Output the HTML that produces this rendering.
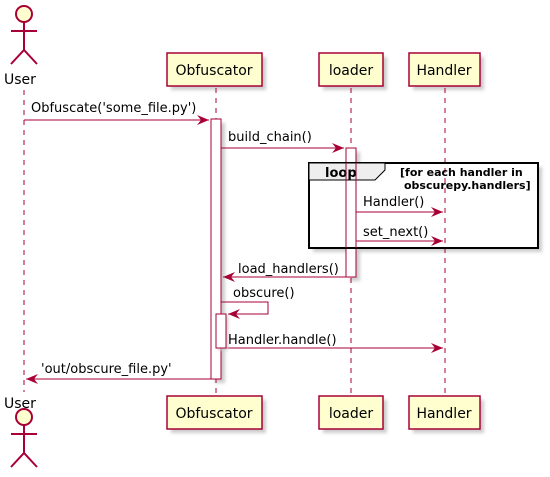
<!DOCTYPE html>
<html><head><style>body{margin:0;background:#fff}svg{display:block}text{font-family:"DejaVu Sans","Liberation Sans",sans-serif;fill:#000}</style></head><body>
<svg width="550" height="477" viewBox="0 0 550 477" xmlns="http://www.w3.org/2000/svg">
<defs><filter id="sh" x="-20%" y="-20%" width="150%" height="150%"><feGaussianBlur stdDeviation="1.5"/></filter></defs>
<!-- shadows -->
<g fill="#ccc" filter="url(#sh)">
<rect x="171" y="57" width="95" height="33"/><rect x="323" y="57" width="64" height="33"/><rect x="413" y="57" width="71" height="33"/>
<rect x="171" y="400" width="95" height="33"/><rect x="323" y="400" width="64" height="33"/><rect x="413" y="400" width="71" height="33"/>
<rect x="313" y="167" width="229" height="85"/>
<rect x="215" y="123" width="10" height="260"/>
<rect x="350" y="152" width="10" height="129"/>
</g>
<rect x="309" y="163" width="229" height="85" fill="#fff"/>
<g stroke="#A80036" stroke-width="1" stroke-dasharray="5,5" fill="none">
<line x1="24" y1="90" x2="24" y2="392"/>
<line x1="216" y1="88" x2="216" y2="396"/>
<line x1="351" y1="88" x2="351" y2="396"/>
<line x1="445" y1="88" x2="445" y2="396"/>
</g>
<!-- actors -->
<g stroke="#A80036" stroke-width="2" fill="#FEFECE">
<circle cx="24" cy="14" r="8"/><line x1="24" y1="22" x2="24" y2="50"/><line x1="11" y1="31" x2="37" y2="31"/><polyline points="11,64 24,50 37,64" fill="none"/>
<circle cx="24" cy="417" r="8"/><line x1="24" y1="425" x2="24" y2="453"/><line x1="11" y1="434" x2="37" y2="434"/><polyline points="11,467 24,453 37,467" fill="none"/>
</g>
<text x="4" y="84" font-size="14">User</text>
<text x="4" y="408" font-size="14">User</text>
<g stroke="#A80036" stroke-width="1.5" fill="#FEFECE">
<rect x="167" y="53" width="95" height="33"/><rect x="319" y="53" width="64" height="33"/><rect x="409" y="53" width="71" height="33"/>
<rect x="167" y="396" width="95" height="33"/><rect x="319" y="396" width="64" height="33"/><rect x="409" y="396" width="71" height="33"/>
</g>
<g font-size="14" text-anchor="middle">
<text x="214" y="75">Obfuscator</text><text x="351" y="75">loader</text><text x="444" y="75">Handler</text>
<text x="214" y="418">Obfuscator</text><text x="351" y="418">loader</text><text x="444" y="418">Handler</text>
</g>
<!-- activations -->
<g stroke="#A80036" stroke-width="1" fill="#fff">
<rect x="211" y="119" width="10" height="260"/>
<rect x="346" y="148" width="10" height="129"/>
</g>
<!-- loop frame -->
<rect x="309" y="163" width="229" height="85" fill="none" stroke="#000" stroke-width="2"/>
<path d="M309,163 H385 V170 L375,180 H309 Z" fill="#EEEEEE" stroke="#000" stroke-width="1"/>
<text x="325" y="177" font-size="13" font-weight="bold">loop</text>
<text x="400" y="176" font-size="11" font-weight="bold">[for each handler in</text>
<text x="404" y="189" font-size="11" font-weight="bold">obscurepy.handlers]</text>
<line x1="346" y1="163" x2="346" y2="248" stroke="#A80036"/>
<line x1="356" y1="163" x2="356" y2="248" stroke="#A80036"/>
<!-- messages -->
<g stroke="#A80036" stroke-width="1" fill="none">
<line x1="24" y1="120" x2="209" y2="120"/>
<line x1="221" y1="148" x2="344" y2="148"/>
<line x1="356" y1="212" x2="443" y2="212"/>
<line x1="356" y1="241" x2="443" y2="241"/>
<line x1="223" y1="277" x2="346" y2="277"/>
<polyline points="221,302 268,302 268,314 228,314"/>
<line x1="226" y1="348" x2="443" y2="348"/>
<line x1="26" y1="379" x2="211" y2="379"/>
</g>
<rect x="218" y="316" width="10" height="34" fill="#ccc" filter="url(#sh)"/>
<rect x="216" y="314" width="10" height="34" fill="#fff" stroke="#A80036"/>
<g fill="#A80036">
<polygon points="209,120 197,115 201,120 197,125"/>
<polygon points="344,148 332,143 336,148 332,153"/>
<polygon points="443,212 431,207 435,212 431,217"/>
<polygon points="443,241 431,236 435,241 431,246"/>
<polygon points="223,277 235,272 231,277 235,282"/>
<polygon points="228,314 240,309 236,314 240,319"/>
<polygon points="443,348 431,343 435,348 431,353"/>
<polygon points="26,379 38,374 34,379 38,384"/>
</g>
<g font-size="13">
<text x="31" y="112">Obfuscate('some_file.py')</text>
<text x="228" y="141">build_chain()</text>
<text x="363" y="206">Handler()</text>
<text x="363" y="236">set_next()</text>
<text x="238" y="273">load_handlers()</text>
<text x="233" y="297">obscure()</text>
<text x="228" y="344">Handler.handle()</text>
<text x="41" y="373">'out/obscure_file.py'</text>
</g>
</svg>
</body></html>
